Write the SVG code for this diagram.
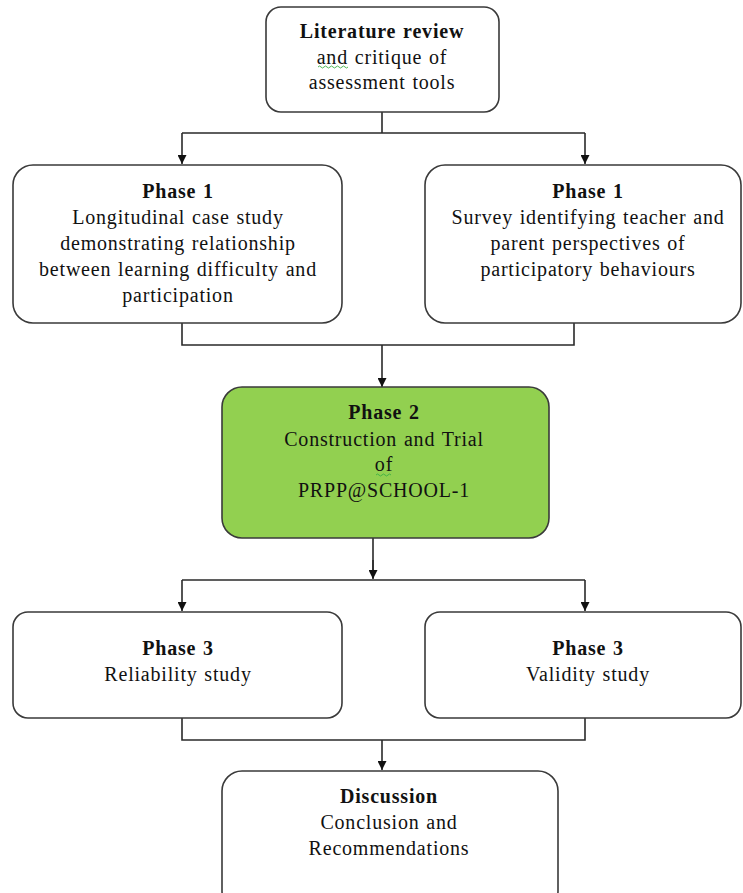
<svg xmlns="http://www.w3.org/2000/svg" width="743" height="893" viewBox="0 0 743 893">
  <style>
    .box { fill: #ffffff; stroke: #3a3a3a; stroke-width: 1.6; }
    .green { fill: #92d050; stroke: #3a3a3a; stroke-width: 1.6; }
    .wire { fill: none; stroke: #2a2a2a; stroke-width: 1.6; }
    text { font-family: "Liberation Serif", "Times New Roman", serif; font-size: 20px; letter-spacing: 0.8px; word-spacing: 1px; fill: #111111; text-anchor: middle; }
    .b { font-weight: bold; }
    .squiggle { fill: none; stroke: #3cb043; stroke-width: 0.9; }
  </style>
  <defs>
    <marker id="arrow" viewBox="0 0 10 10" refX="10" refY="5" markerWidth="9" markerHeight="9" markerUnits="userSpaceOnUse" orient="auto">
      <path d="M0,0 L10,5 L0,10 Z" fill="#111111"/>
    </marker>
  </defs>
  <rect width="743" height="893" fill="#ffffff"/>

  <!-- connectors -->
  <g id="connectors">
    <path class="wire" d="M382,112 V133 M182,133 H585"/>
    <path class="wire" d="M182,133 V164" marker-end="url(#arrow)"/>
    <path class="wire" d="M585,133 V164" marker-end="url(#arrow)"/>
    <path class="wire" d="M182,323 V345 H574 V323"/>
    <path class="wire" d="M382,345 V387" marker-end="url(#arrow)"/>
    <path class="wire" d="M373,538 V578"/>
    <path class="wire" d="M182,580 H585"/>
    <path class="wire" d="M373,560 V579" marker-end="url(#arrow)"/>
    <path class="wire" d="M182,580 V611" marker-end="url(#arrow)"/>
    <path class="wire" d="M585,580 V611" marker-end="url(#arrow)"/>
    <path class="wire" d="M182,718 V740 H585 V718"/>
    <path class="wire" d="M382,740 V770" marker-end="url(#arrow)"/>
  </g>

  <g id="literature">
    <rect class="box" x="266" y="7" width="233" height="105" rx="15"/>
    <text class="b" x="382" y="38">Literature review</text>
    <text x="382" y="64">and critique of</text>
    <path class="squiggle" d="M318,67 q1.5,-2 3,0 t3,0 t3,0 t3,0 t3,0 t3,0 t3,0 t3,0 t3,0 t3,0"/>
    <text x="382" y="89">assessment  tools</text>
  </g>

  <g id="phase1-case">
    <rect class="box" x="13" y="165" width="329" height="158" rx="20"/>
    <text class="b" x="178" y="198">Phase 1</text>
    <text x="178" y="224">Longitudinal case study</text>
    <text x="178" y="250">demonstrating relationship</text>
    <text x="178" y="276">between learning difficulty and</text>
    <text x="178" y="302">participation</text>
  </g>

  <g id="phase1-survey">
    <rect class="box" x="425" y="165" width="316" height="158" rx="20"/>
    <text class="b" x="588" y="198">Phase 1</text>
    <text x="588" y="224">Survey identifying teacher and</text>
    <text x="588" y="250">parent perspectives of</text>
    <text x="588" y="276">participatory behaviours</text>
  </g>

  <g id="phase2">
    <rect class="green" x="222" y="387" width="327" height="151" rx="20"/>
    <text class="b" x="384" y="419">Phase 2</text>
    <text x="384" y="446">Construction and Trial</text>
    <text x="384" y="471">of</text>
    <path class="squiggle" d="M376,475 q1.5,-2 3,0 t3,0 t3,0 t3,0 t3,0"/>
    <text x="384" y="497">PRPP@SCHOOL-1</text>
  </g>

  <g id="phase3-reliability">
    <rect class="box" x="13" y="612" width="329" height="106" rx="15"/>
    <text class="b" x="178" y="655">Phase 3</text>
    <text x="178" y="681">Reliability study</text>
  </g>

  <g id="phase3-validity">
    <rect class="box" x="425" y="612" width="316" height="106" rx="15"/>
    <text class="b" x="588" y="655">Phase 3</text>
    <text x="588" y="681">Validity study</text>
  </g>

  <g id="discussion">
    <rect class="box" x="222" y="771" width="336" height="140" rx="20"/>
    <text class="b" x="389" y="803">Discussion</text>
    <text x="389" y="829">Conclusion and</text>
    <text x="389" y="855">Recommendations</text>
  </g>
</svg>
